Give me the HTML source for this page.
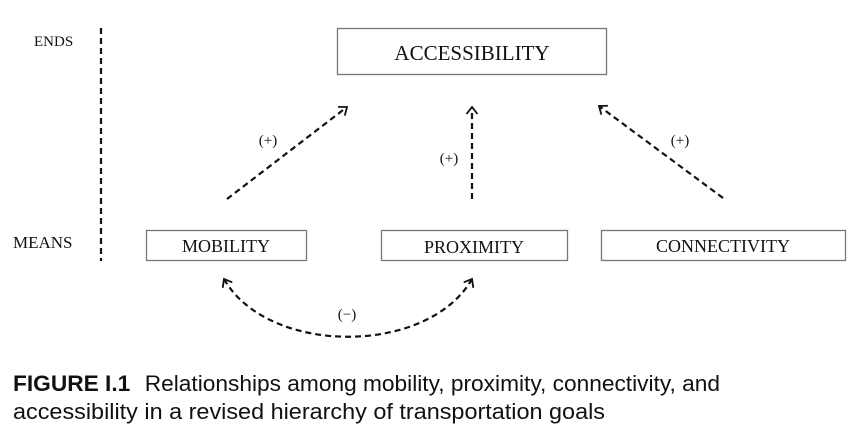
<!DOCTYPE html>
<html><head><meta charset="utf-8"><style>
body{margin:0;background:#fff;width:852px;height:446px;overflow:hidden}
svg{display:block}
.s{font-family:"Liberation Serif",serif;fill:#111}
.c{font-family:"Liberation Sans Narrow","Liberation Sans",sans-serif;fill:#111}
</style></head><body>
<svg width="852" height="446" viewBox="0 0 852 446">
<defs><marker id="a" markerWidth="14" markerHeight="14" refX="10" refY="7" orient="auto-start-reverse" markerUnits="userSpaceOnUse"><path d="M3,1.5 L10,7 L3,12.5" fill="none" stroke="#111" stroke-width="1.8"/></marker></defs>
<g stroke="#111" stroke-width="2.2" stroke-dasharray="6,4" fill="none">
<line x1="101" y1="28" x2="101" y2="261"/>
<line x1="227" y1="199" x2="347" y2="107" marker-end="url(#a)"/>
<line x1="472" y1="199" x2="472" y2="107" marker-end="url(#a)"/>
<line x1="723" y1="198" x2="599" y2="106" marker-end="url(#a)"/>
<path d="M224,279 C268,356 428,356 472,279" marker-start="url(#a)" marker-end="url(#a)"/>
</g>
<g fill="#fff" stroke="#777" stroke-width="1.3">
<rect x="337.5" y="28.5" width="269" height="46"/>
<rect x="146.5" y="230.5" width="160" height="30"/>
<rect x="381.5" y="230.5" width="186" height="30"/>
<rect x="601.5" y="230.5" width="244" height="30"/>
</g>
<g class="s">
<text x="34" y="46" font-size="15">ENDS</text>
<text x="13" y="248" font-size="17">MEANS</text>
<text x="472" y="60" font-size="21" text-anchor="middle">ACCESSIBILITY</text>
<text x="226" y="252" font-size="18" text-anchor="middle">MOBILITY</text>
<text x="474" y="253" font-size="18" text-anchor="middle">PROXIMITY</text>
<text x="723" y="252" font-size="18" text-anchor="middle">CONNECTIVITY</text>
<text x="268" y="145" font-size="15" text-anchor="middle">(+)</text>
<text x="449" y="163" font-size="15" text-anchor="middle">(+)</text>
<text x="680" y="145" font-size="15" text-anchor="middle">(+)</text>
<text x="347" y="319" font-size="15" text-anchor="middle">(−)</text>
</g>
<g class="c" font-size="22">
<text x="13" y="391" textLength="707" lengthAdjust="spacingAndGlyphs"><tspan font-weight="bold">FIGURE I.1</tspan><tspan dx="14">Relationships among mobility, proximity, connectivity, and</tspan></text>
<text x="13" y="419" textLength="592" lengthAdjust="spacingAndGlyphs">accessibility in a revised hierarchy of transportation goals</text>
</g>
</svg>
</body></html>
